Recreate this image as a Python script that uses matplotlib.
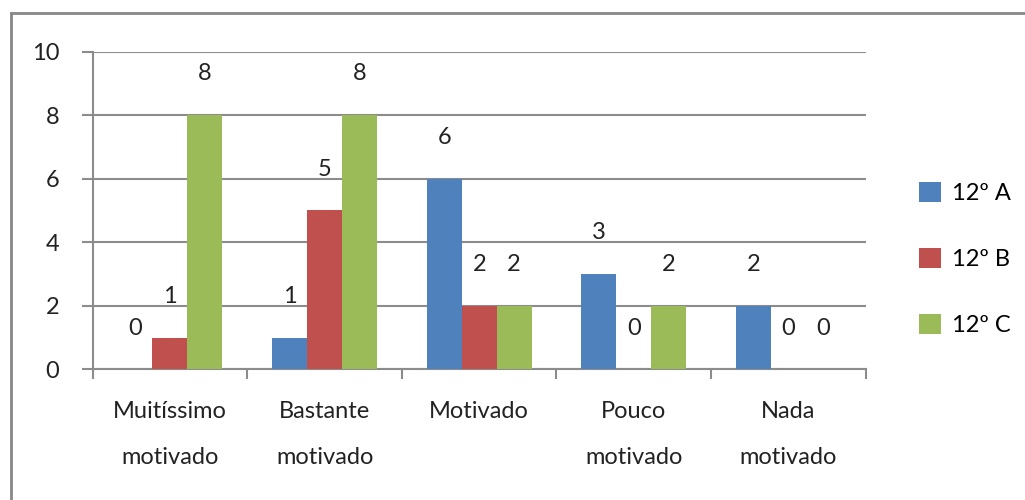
import matplotlib.pyplot as plt
from matplotlib.lines import Line2D

plt.rcParams['font.family'] = ['Lato', 'DejaVu Sans']

# Data
categories = ["Muitíssimo\nmotivado", "Bastante\nmotivado", "Motivado",
              "Pouco\nmotivado", "Nada\nmotivado"]
series_names = ["12º A", "12º B", "12º C"]
turma_a = [0, 1, 6, 3, 2]
turma_b = [1, 5, 2, 0, 0]
turma_c = [8, 8, 2, 2, 0]
y_ticks = [0, 2, 4, 6, 8, 10]

colors = ["#4F81BD", "#C0504D", "#9BBB59"]
grid_col = "#8C8C8C"
fs = 17

fig = plt.figure(figsize=(10.25, 5.0), dpi=100)
ax = fig.add_axes([0.0904, 0.2614, 0.8446 - 0.0904, 0.8966 - 0.2614])

width = 0.226
x = list(range(len(categories)))
for i, (vals, name) in enumerate(zip([turma_a, turma_b, turma_c], series_names)):
    xs = [xi + (i - 1) * width for xi in x]
    ax.bar(xs, vals, width=width, color=colors[i], label=name, zorder=3)
    for xv, v in zip(xs, vals):
        ax.text(xv, v + 1.3, str(v), ha='center', va='center', fontsize=fs,
                color='#222222', zorder=4)

ax.set_xlim(-0.5, len(categories) - 0.5)
ax.set_ylim(0, 10)
ax.set_yticks(y_ticks)
ax.set_yticklabels([str(t) for t in y_ticks])
ax.yaxis.grid(True, color=grid_col, linewidth=1.5, zorder=0)

# category boundaries get tick marks, labels sit in the middle
ax.set_xticks([b - 0.5 for b in range(len(categories) + 1)])
ax.set_xticklabels([])
ax.set_xticks(x, minor=True)
ax.set_xticklabels(categories, minor=True, fontsize=fs, linespacing=2.45,
                   color='#222222')
ax.tick_params(axis='x', which='major', length=7, width=1.5, color=grid_col)
ax.tick_params(axis='x', which='minor', length=0, pad=23)
ax.tick_params(axis='y', length=8, width=1.5, color=grid_col, pad=16,
               labelsize=fs, labelcolor='#222222')

for side in ['top', 'right']:
    ax.spines[side].set_visible(False)
for side in ['left', 'bottom']:
    ax.spines[side].set_color(grid_col)
    ax.spines[side].set_linewidth(1.5)

ax.legend(loc='center left', bbox_to_anchor=(0.8966, 0.482),
          bbox_transform=fig.transFigure, frameon=False, fontsize=fs,
          handlelength=0.95, handleheight=0.95, handletextpad=0.45,
          labelspacing=1.85, borderpad=0, borderaxespad=0)

# outer chart frame (left and top edges visible)
fig.add_artist(Line2D([11 / 1025, 11 / 1025], [0, 1 - 13 / 500],
                      transform=fig.transFigure, color='#888888', linewidth=2))
fig.add_artist(Line2D([11 / 1025, 1], [1 - 13 / 500, 1 - 13 / 500],
                      transform=fig.transFigure, color='#888888', linewidth=2))

fig.savefig("out.png", dpi=100)
